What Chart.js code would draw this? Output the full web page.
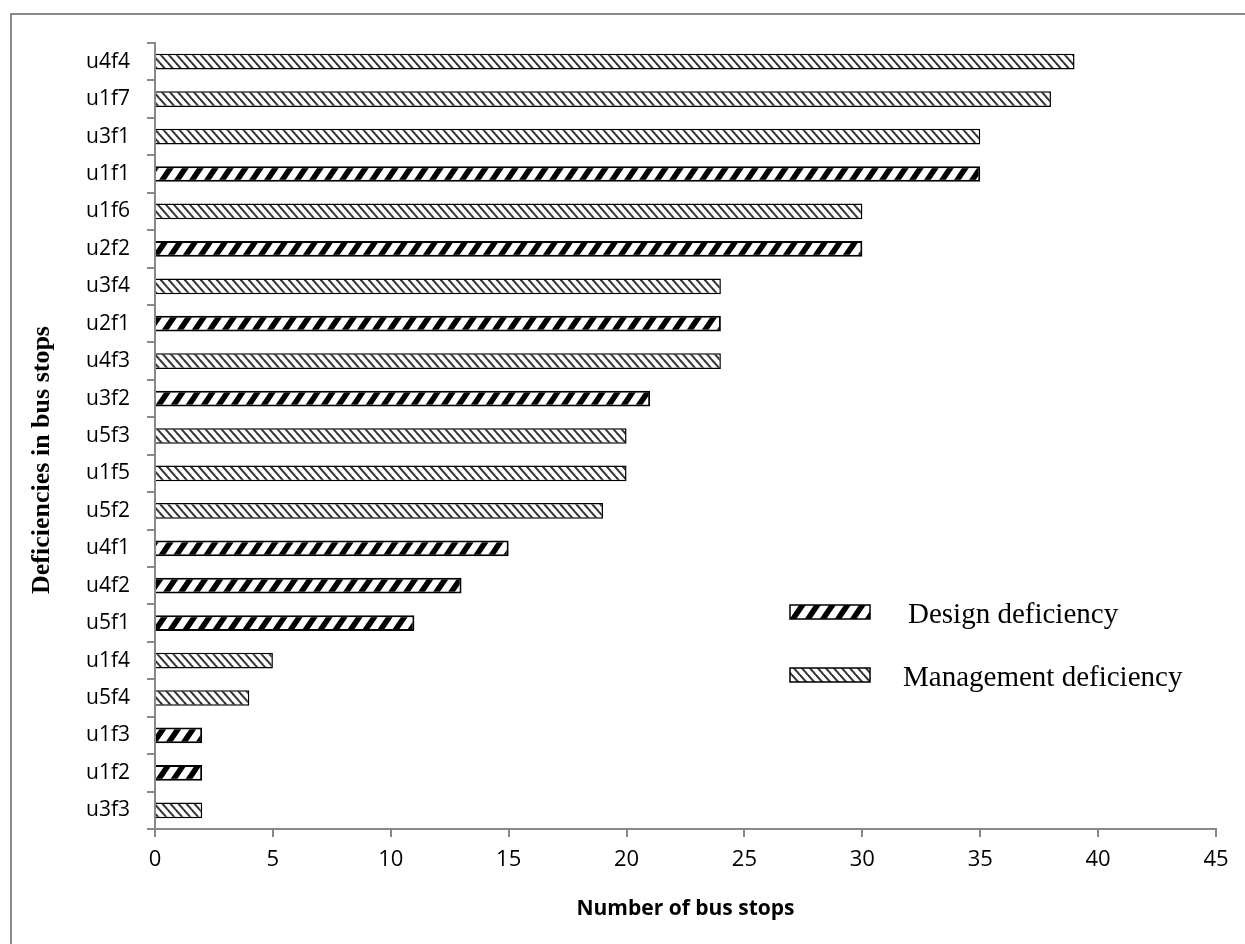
<!DOCTYPE html>
<html lang="en">
<head>
  <meta charset="UTF-8" />
  <title>Deficiencies in bus stops</title>
  <style>
    body {
      margin: 0;
      background: #ffffff;
    }
    .chart-box {
      width: 1245px;
      height: 944px;
    }
  </style>
</head>
<body>
  <div class="chart-box">
    <canvas id="busChart" width="1245" height="944"></canvas>
  </div>

  <script src="https://cdn.jsdelivr.net/npm/chart.js"></script>
  <script>
    // categories, top to bottom
    const labels = ['u4f4', 'u1f7', 'u3f1', 'u1f1', 'u1f6', 'u2f2', 'u3f4', 'u2f1', 'u4f3', 'u3f2',
                    'u5f3', 'u1f5', 'u5f2', 'u4f1', 'u4f2', 'u5f1', 'u1f4', 'u5f4', 'u1f3', 'u1f2', 'u3f3'];

    const designValues = [null, null, null, 35, null, 30, null, 24, null, 21,
                          null, null, null, 15, 13, 11, null, null, 2, 2, null];

    const managementValues = [39, 38, 35, null, 30, null, 24, null, 24, null,
                              20, 20, 19, null, null, null, 5, 4, null, null, 2];

    const xTicks = [0, 5, 10, 15, 20, 25, 30, 35, 40, 45];

    const seriesNames = ['Design deficiency', 'Management deficiency'];
    const yTitle = 'Deficiencies in bus stops';

    // hatch tile: stripes run corner to corner, drawn past the tile edges so they join up
    function makeHatch(w, h, color, lineWidth, rising) {
      const c = document.createElement('canvas');
      c.width = w; c.height = h;
      const g = c.getContext('2d');
      g.fillStyle = '#fff';
      g.fillRect(0, 0, w, h);
      g.strokeStyle = color;
      g.lineWidth = lineWidth;
      for (let k = -2; k <= 2; k++) {
        g.beginPath();
        if (rising) {
          g.moveTo(k * w - w, 2 * h);
          g.lineTo(k * w + 2 * w, -h);
        } else {
          g.moveTo(k * w - w, -h);
          g.lineTo(k * w + 2 * w, 2 * h);
        }
        g.stroke();
      }
      return g.createPattern(c, 'repeat');
    }

    const designFill = makeHatch(15, 22, '#000', 5.5, true);
    const managementFill = makeHatch(8, 9, '#333', 2, false);

    // grey frame round the picture (top and left edge only show)
    const framePlugin = {
      id: 'frame',
      beforeDraw(chart) {
        const ctx = chart.ctx;
        ctx.save();
        ctx.fillStyle = '#fff';
        ctx.fillRect(0, 0, chart.width, chart.height);
        ctx.strokeStyle = '#888';
        ctx.lineWidth = 2;
        ctx.beginPath();
        ctx.moveTo(11, chart.height);
        ctx.lineTo(11, 14);
        ctx.lineTo(chart.width, 14);
        ctx.stroke();
        ctx.restore();
      }
    };

    // legend drawn inside the plot area, and the serif y title
    const legendPlugin = {
      id: 'innerLegend',
      afterDraw(chart) {
        const ctx = chart.ctx;
        const items = [
          { fill: designFill, text: seriesNames[0], y: 612, tx: 908 },
          { fill: managementFill, text: seriesNames[1], y: 675, tx: 903 }
        ];
        ctx.save();
        items.forEach(it => {
          ctx.fillStyle = it.fill;
          ctx.fillRect(790, it.y - 7, 80, 14);
          ctx.strokeStyle = '#000';
          ctx.lineWidth = 1.5;
          ctx.strokeRect(790, it.y - 7, 80, 14);
          ctx.fillStyle = '#000';
          ctx.font = '29px "Liberation Serif", "Times New Roman", serif';
          ctx.textBaseline = 'middle';
          ctx.fillText(it.text, it.tx, it.y + 3);
        });

        ctx.translate(42, 460);
        ctx.rotate(-Math.PI / 2);
        ctx.font = 'bold 26px "Liberation Serif", "Times New Roman", serif';
        ctx.textAlign = 'center';
        ctx.textBaseline = 'middle';
        ctx.fillText(yTitle, 0, 0);
        ctx.restore();
      }
    };

    const axisGrey = '#888888';

    new Chart(document.getElementById('busChart'), {
      type: 'bar',
      data: {
        labels: labels,
        datasets: [
          {
            label: seriesNames[0],
            data: designValues,
            backgroundColor: designFill,
            borderColor: '#000',
            borderWidth: 2,
            barPercentage: 0.42,
            categoryPercentage: 1
          },
          {
            label: seriesNames[1],
            data: managementValues,
            backgroundColor: managementFill,
            borderColor: '#000',
            borderWidth: 1.5,
            barPercentage: 0.42,
            categoryPercentage: 1
          }
        ]
      },
      options: {
        indexAxis: 'y',
        responsive: false,
        animation: false,
        layout: { padding: { top: 43, right: 29, left: 0, bottom: 0 } },
        plugins: {
          legend: { display: false },
          tooltip: { enabled: false }
        },
        scales: {
          x: {
            stacked: true,
            min: 0,
            max: 45,
            afterBuildTicks: s => { s.ticks = xTicks.map(v => ({ value: v })); },
            afterFit: s => { s.height = 115; },
            grid: { drawOnChartArea: false, drawTicks: true, tickLength: 8, color: axisGrey, lineWidth: 2 },
            border: { color: axisGrey, width: 2 },
            ticks: { color: '#000', font: { family: '"Open Sans", sans-serif', size: 22 }, padding: 10 },
            title: {
              display: true,
              text: 'Number of bus stops',
              color: '#000',
              font: { family: '"Open Sans", sans-serif', size: 21, weight: 'bold' },
              padding: { top: 0, bottom: 22 }
            }
          },
          y: {
            stacked: true,
            afterFit: s => { s.width = 155; },
            grid: { drawOnChartArea: false, drawTicks: true, tickLength: 8, color: axisGrey, lineWidth: 2, offset: true },
            border: { color: axisGrey, width: 2 },
            ticks: { color: '#000', font: { family: '"Open Sans", sans-serif', size: 21 }, padding: 17, autoSkip: false },
            title: { display: false }
          }
        }
      },
      plugins: [framePlugin, legendPlugin]
    });
  </script>
</body>
</html>
